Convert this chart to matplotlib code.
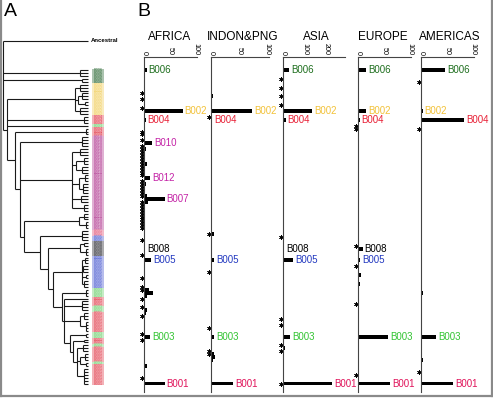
import matplotlib
matplotlib.use('Agg')
import matplotlib.pyplot as plt
from matplotlib.patches import Rectangle
from matplotlib import transforms as mtrans
import numpy as np

plt.rcParams['font.family'] = ['Liberation Sans', 'DejaVu Sans']

W, H = 493, 398
LEAF0_Y, PITCH = 70.0, 2.93   # pixel position of first leaf and leaf spacing
TIP_X = 88.0

# ---------------- data ----------------
group_names = ['B006', 'B002', 'B004', 'B003', 'B004', 'B010', 'B001', 'B005', 'B008', 'B005',
               'B003', 'B001', 'B003', 'B001', 'B003', 'B001', 'B003', 'B001', 'B003', 'B001']
group_counts = [5, 11, 3, 1, 3, 32, 2, 2, 5, 11, 3, 3, 2, 7, 2, 2, 1, 5, 1, 7]
group_colors = ['#2f6b37', '#f1cf5e', '#e2404f', '#6fd06f', '#e2404f', '#b23a92', '#e2577a', '#4b5bd0',
                '#2d2d35', '#4b5bd0', '#6fd06f', '#e2404f', '#6fd06f', '#e2404f', '#6fd06f', '#e2404f',
                '#6fd06f', '#e2404f', '#6fd06f', '#e2404f']

# tree: [depth, children...]; int = leaf index
tree = [3, 'ANC', [80, 0, 1, 2], [82, 3, 4],
        [7,
         [75, [80, 5, 6, 7], [78, [82, 8, 9, 10], [85, 11, 12]], [80, 13, 14, 15]],
         [84, 16, 17, 18],
         19,
         [15,
          [86, 20, 21, 22],
          [20,
           [82, 23, 24, 25, 26],
           [72, [80, 27, 28, 29], [76, [84, 30, 31, 32], [82, 33, 34, 35]],
            [79, [85, 36, 37, 38], [83, 39, 40, 41, 42]], [81, 43, 44, 45], [84, 46, 47, 48]],
           [24,
            [79, [84, 49, 50, 51], [86, 52, 53, 54]],
            [40,
             [82, 55, 56, 57, 58],
             [48,
              [80, [84, 59, 60], [86, 61, 62, 63]],
              [53,
               [82, [85, 64, 65, 66], [83, 67, 68, 69], [86, 70, 71], [84, 72, 73, 74]],
               [62,
                [86, 75, 76, 77],
                [64,
                 78,
                 [82, 79, 80, 81, 82],
                 [80, [84, 83, 84, 85], [86, 86, 87, 88, 89]],
                 [70,
                  [86, 90, 91],
                  [73,
                   [84, 92, 93],
                   [77, [83, 94, 95, 96], [80, [85, 97, 98, 99], [86, 100, 101]],
                    [84, 102, 103, 104, 105, 106, 107]]]]]]]]]]]]]]
ANC_POS = -10

label_leaf = {'B006': 0, 'B002': 14, 'B004': 17, 'B010': 25, 'B012': 37, 'B007': 44,
              'B008': 61, 'B005': 65, 'B003': 91, 'B001': 107}
label_colors = {'B006': '#1f6f1f', 'B002': '#f2c23a', 'B004': '#e81f35', 'B010': '#c423a6',
                'B012': '#c423a6', 'B007': '#c423a6', 'B008': '#000000', 'B005': '#2339c0',
                'B003': '#33c433', 'B001': '#e0135a'}

regions = ['AFRICA', 'INDON&PNG', 'ASIA', 'EUROPE', 'AMERICAS']
africa_leaf = [0, 14, 17, 25, 27, 32, 37, 39, 43, 44, 45, 61, 65, 75, 76, 77, 82, 83, 91, 101, 107]
africa_val = [5, 75, 3, 15, 3, 5, 12, 4, 5, 40, 8, 2, 13, 10, 18, 6, 5, 4, 12, 6, 40]
africa_star = [8, 10, 13, 21, 22, 24, 26, 27, 28, 29, 30, 31, 32, 33, 34, 35, 36, 38, 39, 40, 41, 42,
               43, 45, 46, 47, 48, 49, 50, 51, 52, 53, 54, 58, 63, 71, 74, 75, 78, 81, 84, 90, 92, 105]
africa_lab = ['B006', 'B002', 'B004', 'B010', 'B012', 'B007', 'B008', 'B005', 'B003', 'B001']

indon_leaf = [6, 9, 14, 17, 56, 65, 69, 74, 91, 97, 98, 99, 107]
indon_val = [2, 3, 73, 2, 5, 5, 2, 2, 5, 6, 7, 4, 39]
indon_star = [16, 56, 69, 88, 96, 97]
indon_lab = ['B002', 'B004', 'B005', 'B003', 'B001']

asia_leaf = [0, 14, 17, 61, 65, 70, 73, 76, 91, 93, 95, 101, 107]
asia_val = [28, 135, 12, 5, 47, 5, 5, 5, 33, 5, 8, 4, 228]
asia_star = [3, 6, 9, 12, 57, 85, 87, 94, 96, 107]
asia_lab = ['B006', 'B002', 'B004', 'B008', 'B005', 'B003', 'B001']

europe_leaf = [0, 5, 14, 17, 61, 65, 70, 73, 89, 91, 101, 107]
europe_val = [15, 2, 15, 3, 9, 4, 6, 4, 2, 58, 2, 62]
europe_star = [19, 20, 60, 67, 80, 104]
europe_lab = ['B006', 'B002', 'B004', 'B008', 'B005', 'B003', 'B001']

americas_leaf = [0, 14, 17, 20, 21, 76, 91, 99, 107]
americas_val = [46, 3, 83, 2, 2, 3, 29, 3, 62]
americas_star = [4, 20, 103]
americas_lab = ['B006', 'B002', 'B004', 'B003', 'B001']

region_leaf = [africa_leaf, indon_leaf, asia_leaf, europe_leaf, americas_leaf]
region_val = [africa_val, indon_val, asia_val, europe_val, americas_val]
region_star = [africa_star, indon_star, asia_star, europe_star, americas_star]
region_lab = [africa_lab, indon_lab, asia_lab, europe_lab, americas_lab]
region_ticks = [[0, 50, 100], [0, 50, 100], [0, 100, 200], [0, 50, 100], [0, 50, 100]]
region_xmax = [103, 103, 288, 103, 103]

# ---------------- layout (pixels) ----------------
panel_x0 = [144, 211, 283, 358, 421]
panel_x1 = [197, 269, 345, 411, 474]
title_x = [170, 243, 316, 383, 450]
AX_TOP, AX_BOT = 57, 392


def px2i(p):
    return (p - LEAF0_Y) / PITCH


fig = plt.figure(figsize=(W / 100, H / 100), dpi=100)
bg = fig.add_axes([0, 0, 1, 1])
bg.set_xlim(0, W)
bg.set_ylim(px2i(H), px2i(0))
bg.axis('off')

# frame
fc = '#8a8a8a'
bg.plot([1, 1], [px2i(0), px2i(395.5)], color=fc, lw=1.6)
bg.plot([491.5, 491.5], [px2i(0), px2i(395.5)], color=fc, lw=1.6)
bg.plot([1, 491.5], [px2i(395.5), px2i(395.5)], color=fc, lw=1.6)

# leaves
leaf_names, leaf_cols = [], []
for n, c, col in zip(group_names, group_counts, group_colors):
    leaf_names += [n] * c
    leaf_cols += [col] * c
for i, (n, col) in enumerate(zip(leaf_names, leaf_cols)):
    bg.add_patch(Rectangle((92, i - 0.5), 12, 1, color=col, alpha=0.4, lw=0))
    bg.text(98, i, n, fontsize=2.8, color=col, ha='center', va='center')

tree_kw = dict(color='#1a1a1a', lw=0.8, solid_capstyle='butt')


def draw(node):
    if node == 'ANC':
        return TIP_X, ANC_POS
    if isinstance(node, int):
        return TIP_X, node
    x = node[0]
    pts = [draw(c) for c in node[1:]]
    ys = [p[1] for p in pts]
    bg.plot([x, x], [min(ys), max(ys)], **tree_kw)
    for cx, cy in pts:
        bg.plot([x, cx], [cy, cy], **tree_kw)
    return x, (ys[0] + ys[-1]) / 2


draw(tree)
bg.text(TIP_X + 3, ANC_POS, 'Ancestral', fontsize=4.3, fontweight='bold', va='center', ha='left')

fig.text(4 / W, 1 - 3 / H, 'A', fontsize=14, va='top', ha='left')
fig.text(137 / W, 1 - 3 / H, 'B', fontsize=14, va='top', ha='left')

# ---------------- panels ----------------
for k in range(5):
    x0, x1 = panel_x0[k], panel_x1[k]
    ax = fig.add_axes([x0 / W, 1 - AX_BOT / H, (x1 - x0) / W, (AX_BOT - AX_TOP) / H])
    ax.set_xlim(0, region_xmax[k])
    ax.set_ylim(px2i(AX_BOT), px2i(AX_TOP))
    ax.patch.set_alpha(0)
    for s in ['right', 'bottom']:
        ax.spines[s].set_visible(False)
    for s in ['left', 'top']:
        ax.spines[s].set_linewidth(0.8)
        ax.spines[s].set_color('#444444')
    ax.set_yticks([])
    ax.xaxis.tick_top()
    ax.set_xticks(region_ticks[k])
    ax.set_xticklabels([str(t) for t in region_ticks[k]])
    ax.tick_params(axis='x', labelrotation=-90, labelsize=5.2, length=0, pad=1.5)
    ax.barh(region_leaf[k], region_val[k], height=1.35, color='black', clip_on=False)
    st = mtrans.offset_copy(ax.transData, fig=fig, x=-2.5, y=0, units='dots')
    ax.scatter(np.zeros(len(region_star[k])), region_star[k], marker=(6, 2, 0), s=10,
               lw=0.45, color='black', transform=st, clip_on=False)
    vmap = dict(zip(region_leaf[k], region_val[k]))
    for name in region_lab[k]:
        li = label_leaf[name]
        v = vmap.get(li, 0)
        ax.annotate(name, xy=(v, li), xytext=(1.5, 0), textcoords='offset points',
                    va='center', ha='left', fontsize=7, color=label_colors[name],
                    annotation_clip=False)
    fig.text(title_x[k] / W, 1 - 37 / H, regions[k], fontsize=8.5, ha='center', va='center')

fig.savefig('out.png', dpi=100)
